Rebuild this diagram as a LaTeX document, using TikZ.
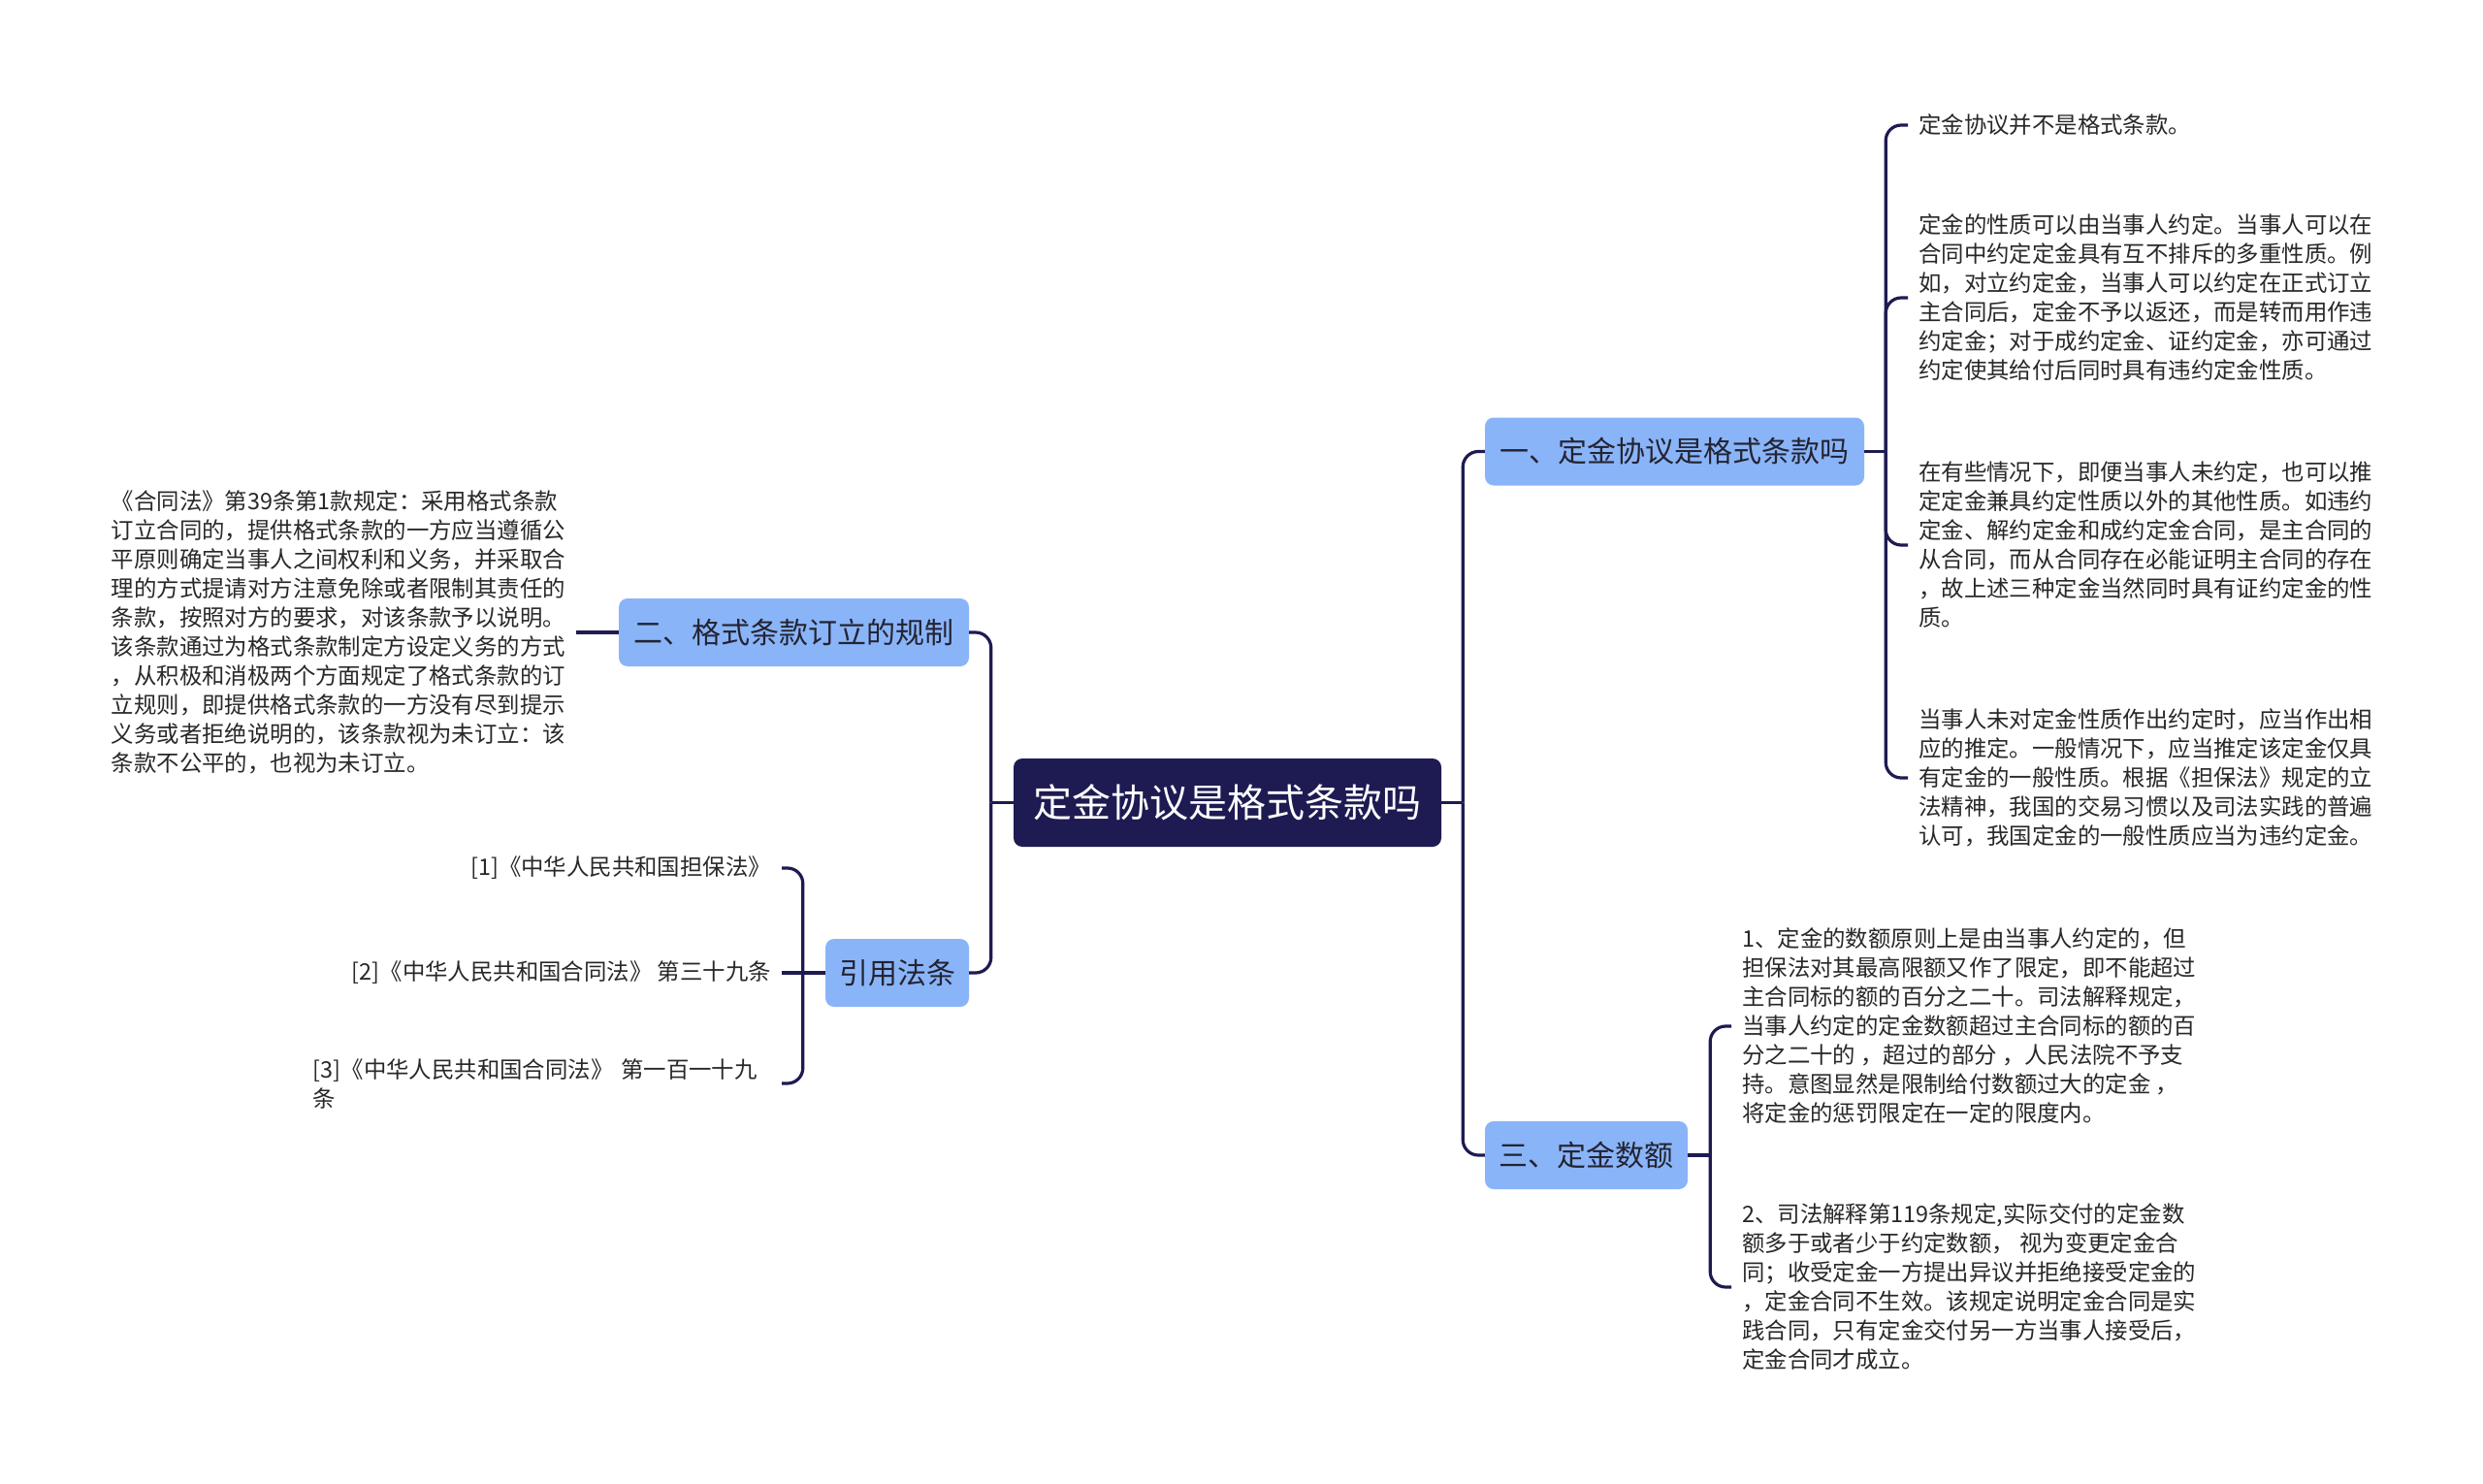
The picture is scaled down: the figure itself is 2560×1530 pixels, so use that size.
\documentclass[tikz,border=0pt]{standalone}
\usepackage{fontspec}
\setmainfont{Noto Sans CJK SC}
\definecolor{navy}{RGB}{30,27,82}
\definecolor{lblue}{RGB}{138,180,248}
\definecolor{leaftext}{RGB}{40,40,40}
\definecolor{boxtext}{RGB}{35,35,50}
\tikzset{
  conn/.style={draw=navy, line width=3.2pt, rounded corners=16pt},
  rootbox/.style={fill=navy, rounded corners=9pt, text=white, font=\fontsize{40}{48}\selectfont, minimum width=441pt, minimum height=91pt, inner sep=0pt},
  mainbox/.style={fill=lblue, rounded corners=9pt, text=boxtext, font=\fontsize{30}{36}\selectfont, minimum height=70pt, inner sep=0pt},
  leafR/.style={anchor=west, align=left, text=leaftext, font=\fontsize{23.4}{30}\selectfont, inner xsep=11pt, inner ysep=0pt},
  leafL/.style={anchor=east, text=leaftext, font=\fontsize{23.4}{30}\selectfont, inner xsep=11pt, inner ysep=0pt}
}
\begin{document}
\begin{tikzpicture}[x=1pt,y=-1pt]
\useasboundingbox (0,0) rectangle (2560,1530);
\fill[white] (0,0) rectangle (2560,1530);

% main nodes
\node[rootbox] (root) at (1265.5,827.5) {定金协议是格式条款吗};
\node[mainbox, minimum width=391pt] (b1) at (1726.5,465.5) {一、定金协议是格式条款吗};
\node[mainbox, minimum width=361pt] (b2) at (818.5,652) {二、格式条款订立的规制};
\node[mainbox, minimum width=209pt] (b3) at (1635.5,1191) {三、定金数额};
\node[mainbox, minimum width=148pt] (b4) at (925,1003) {引用法条};

% children of b1
\node[leafR] (c11) at (1967,129) {定金协议并不是格式条款。};
\node[leafR] (c12) at (1967,307) {定金的性质可以由当事人约定。当事人可以在\\
合同中约定定金具有互不排斥的多重性质。例\\
如，对立约定金，当事人可以约定在正式订立\\
主合同后，定金不予以返还，而是转而用作违\\
约定金；对于成约定金、证约定金，亦可通过\\
约定使其给付后同时具有违约定金性质。};
\node[leafR] (c13) at (1967,562) {在有些情况下，即便当事人未约定，也可以推\\
定定金兼具约定性质以外的其他性质。如违约\\
定金、解约定金和成约定金合同，是主合同的\\
从合同，而从合同存在必能证明主合同的存在\\
，故上述三种定金当然同时具有证约定金的性\\
质。};
\node[leafR] (c14) at (1967,802) {当事人未对定金性质作出约定时，应当作出相\\
应的推定。一般情况下，应当推定该定金仅具\\
有定金的一般性质。根据《担保法》规定的立\\
法精神，我国的交易习惯以及司法实践的普遍\\
认可，我国定金的一般性质应当为违约定金。};

% children of b3
\node[leafR] (c31) at (1785,1058) {1、定金的数额原则上是由当事人约定的，但\\
担保法对其最高限额又作了限定，即不能超过\\
主合同标的额的百分之二十。司法解释规定，\\
当事人约定的定金数额超过主合同标的额的百\\
分之二十的 ，超过的部分 ，人民法院不予支\\
持。意图显然是限制给付数额过大的定金 ，\\
将定金的惩罚限定在一定的限度内。};
\node[leafR] (c32) at (1785,1327) {2、司法解释第119条规定,实际交付的定金数\\
额多于或者少于约定数额， 视为变更定金合\\
同；收受定金一方提出异议并拒绝接受定金的\\
，定金合同不生效。该规定说明定金合同是实\\
践合同，只有定金交付另一方当事人接受后，\\
定金合同才成立。};

% child of b2
\node[leafL, align=left] (l21) at (594,652) {《合同法》第39条第1款规定：采用格式条款\\
订立合同的，提供格式条款的一方应当遵循公\\
平原则确定当事人之间权利和义务，并采取合\\
理的方式提请对方注意免除或者限制其责任的\\
条款，按照对方的要求，对该条款予以说明。\\
该条款通过为格式条款制定方设定义务的方式\\
，从积极和消极两个方面规定了格式条款的订\\
立规则，即提供格式条款的一方没有尽到提示\\
义务或者拒绝说明的，该条款视为未订立：该\\
条款不公平的，也视为未订立。};

% children of b4
\node[leafL] (c41) at (806,895) {[1]《中华人民共和国担保法》};
\node[leafL] (c42) at (806,1003) {[2]《中华人民共和国合同法》 第三十九条};
\node[leafL, align=left, text width=472pt] (c43) at (806,1117) {[3]《中华人民共和国合同法》 第一百一十九\\条};

% connectors: root
\draw[conn] (root.east) -- ++(22,0) coordinate (rj);
\draw[conn] (rj) |- (b1.west);
\draw[conn] (rj) |- (b3.west);
\draw[conn] (root.west) -- ++(-23,0) coordinate (lj);
\draw[conn] (lj) |- (b2.east);
\draw[conn] (lj) |- (b4.east);

% b1 children
\draw[conn] (b1.east) -- ++(22,0) coordinate (j1);
\draw[conn] (j1) |- (c11.west);
\draw[conn] (j1) |- (c12.west);
\draw[conn] (j1) |- (c13.west);
\draw[conn] (j1) |- (c14.west);

% b3 children
\draw[conn] (b3.east) -- ++(23,0) coordinate (j3);
\draw[conn] (j3) |- (c31.west);
\draw[conn] (j3) |- (c32.west);

% b2 child
\draw[conn] (b2.west) -- (l21.east);

% b4 children
\draw[conn] (b4.west) -- ++(-23,0) coordinate (j4);
\draw[conn] (j4) |- (c41.east);
\draw[conn] (j4) -- (c42.east);
\draw[conn] (j4) |- (c43.east);
\end{tikzpicture}
\end{document}
